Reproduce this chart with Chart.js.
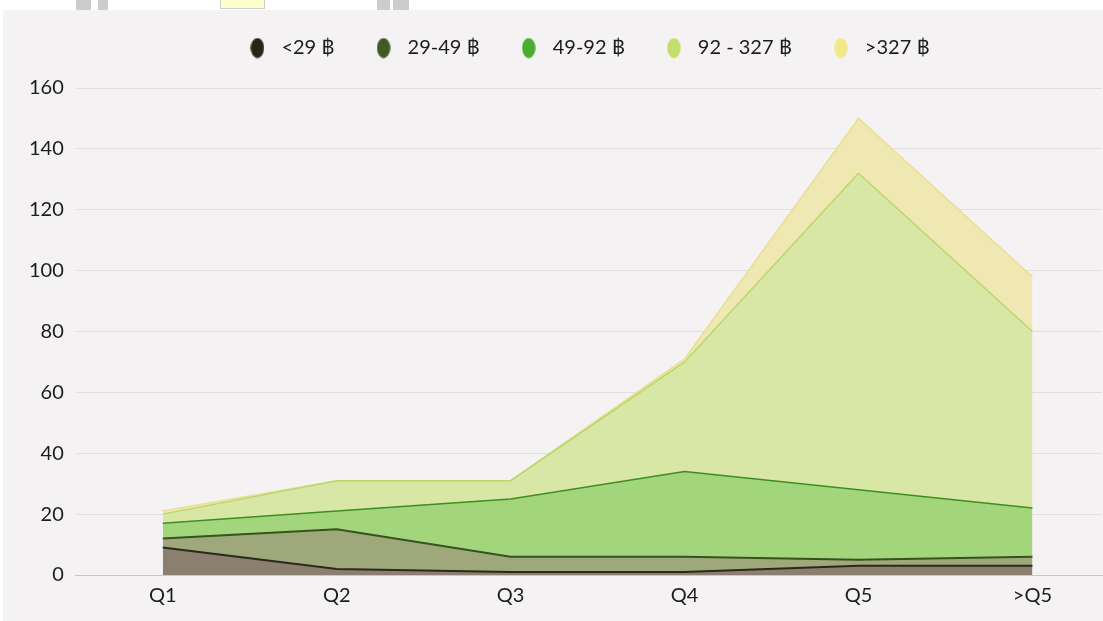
<!DOCTYPE html>
<html>
<head>
<meta charset="utf-8">
<script src="https://cdn.jsdelivr.net/npm/chart.js@4.4.1/dist/chart.umd.min.js"></script>
<style>
  html, body { margin: 0; padding: 0; background: #ffffff; overflow: hidden; }
  #wrap { position: absolute; left: 3px; top: 10px; width: 1100px; height: 611px; background: #f4f2f2; }
  .blot { position: absolute; top: 0; height: 10px; background: #cccccc; }
</style>
</head>
<body>
<div class="blot" style="left:76px;width:15px"></div>
<div class="blot" style="left:98px;width:10px"></div>
<div class="blot" style="left:220px;width:43px;height:8px;background:#ffffcc;border:1px solid #cccccc;border-top:0"></div>
<div class="blot" style="left:377px;width:13px"></div>
<div class="blot" style="left:393px;width:16px"></div>
<div id="wrap"><canvas id="chart-price"></canvas></div>
<script>
// Stacked area - price bands per quintile

let labels = ['Q1', 'Q2', 'Q3', 'Q4', 'Q5', '>Q5']
let seriesNames = ['<29 ฿', '29-49 ฿', '49-92 ฿', '92 - 327 ฿', '>327 ฿']
let under29   = [9, 2, 1, 1, 3, 3]
let from29    = [3, 13, 5, 5, 2, 3]
let from49    = [5, 6, 19, 28, 23, 16]
let from92    = [3, 10, 6, 36, 104, 58]
let over327   = [1, 0, 0, 1, 18, 18]
let yMax = 160
let yStep = 20

let fills   = ['#8b8070', '#9ea87b', '#a3d67c', '#d9e7a6', '#f0e8b3']
let borders = ['#2b281c', '#36521f', '#3f8d22', '#bad76b', '#eadf92']
let dots    = ['#2a2416', '#3f5a25', '#4aad2d', '#c3df6b', '#f1e889']

// oval legend marker
function makeDot(color) {
	var c = document.createElement('canvas')
	c.width = 14
	c.height = 21
	var ctx = c.getContext('2d')
	ctx.fillStyle = color
	ctx.beginPath()
	ctx.ellipse(7, 10.5, 6.7, 10, 0, 0, Math.PI * 2)
	ctx.fill()
	return c
}
let dotImages = dots.map(makeDot)

let series = [under29, from29, from49, from92, over327]
let datasets = series.map((values, i) => ({
	label: seriesNames[i],
	data: values.map((v, j) => ({ x: j, y: v })),
	backgroundColor: fills[i],
	borderColor: borders[i],
	borderWidth: i < 2 ? 2 : 1.5,
	pointRadius: 0,
	tension: 0,
	fill: i === 0 ? 'origin' : '-1',
}))

// move the legend a bit right and up, like the original
let legendNudge = {
	id: 'legendNudge',
	afterLayout(chart) {
		var l = chart.legend
		l.left += 27
		l.right += 27
		l.top -= 20
		l.bottom -= 20
	}
}

Chart.defaults.font.family = 'Lato, "Noto Sans", sans-serif'
Chart.defaults.font.size = 20
Chart.defaults.color = '#1c1c1c'

new Chart(document.getElementById('chart-price'), {
	type: 'line',
	data: { datasets },
	plugins: [legendNudge],
	options: {
		responsive: true,
		maintainAspectRatio: false,
		animation: false,
		layout: { padding: { left: 14, right: 1, top: 13, bottom: 4 } },
		plugins: {
			tooltip: { enabled: false },
			legend: {
				labels: {
					usePointStyle: true,
					pointStyleWidth: 28,
					padding: 35,
					generateLabels: chart => Chart.defaults.plugins.legend.labels.generateLabels(chart)
						.map((item, i) => ({ ...item, pointStyle: dotImages[i] })),
				},
			},
		},
		scales: {
			x: {
				type: 'linear',
				min: -0.5,
				max: 5.4,
				afterBuildTicks: scale => { scale.ticks = labels.map((_, i) => ({ value: i })) },
				ticks: {
					padding: 9,
					callback: v => labels[v],
				},
				grid: { display: false, drawTicks: false },
				border: { color: '#c9c7c7' },
			},
			y: {
				stacked: true,
				min: 0,
				max: yMax,
				ticks: { stepSize: yStep, padding: 12 },
				grid: { color: '#e1dfdf', drawTicks: false },
				border: { display: false },
			},
		},
	},
})
</script>
</body>
</html>
